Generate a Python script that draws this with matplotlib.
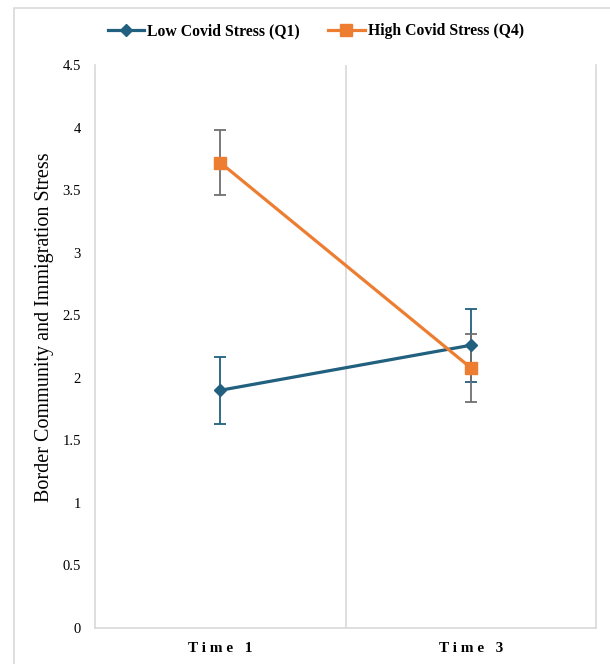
import matplotlib.pyplot as plt
from matplotlib.patches import Rectangle

times = ["Time 1", "Time 3"]
low_mean = [1.90, 2.26]
low_err = [0.27, 0.29]
high_mean = [3.72, 2.08]
high_err = [0.26, 0.27]
yticks = [0, 0.5, 1, 1.5, 2, 2.5, 3, 3.5, 4, 4.5]

blue = "#21607f"
orange = "#ed7d31"
grid = "#d9d9d9"
serif = ["Liberation Serif", "DejaVu Serif"]

fig = plt.figure(figsize=(6.1, 6.64), dpi=100)
ax = fig.add_axes([95 / 610, 1 - 628 / 664, (596 - 95) / 610, (628 - 65) / 664])

fig.patches.append(Rectangle((14 / 610, -0.05), 1.0, 1 - 8 / 664 + 0.05,
                             transform=fig.transFigure, fill=False,
                             edgecolor=grid, lw=1.2))

x = list(range(len(times)))
ax.errorbar(x, low_mean, yerr=low_err, fmt="none", ecolor=blue, elinewidth=1.3,
            capsize=4, capthick=1.3, zorder=2)
ax.errorbar(x, high_mean, yerr=high_err, fmt="none", ecolor="#6f6f6f", elinewidth=1.3,
            capsize=4, capthick=1.3, zorder=3)
ax.plot(x, low_mean, color=blue, lw=2.3, marker="D", markersize=6,
        label="Low Covid Stress (Q1)", zorder=4)
ax.plot(x, high_mean, color=orange, lw=2.3, marker="s", markersize=8,
        label="High Covid Stress (Q4)", zorder=5)

ax.set_xlim(-0.5, 1.5)
ax.set_ylim(0, 4.5)
ax.set_yticks(yticks)
ax.set_yticklabels([f"{t:g}" for t in yticks], fontfamily=serif, fontsize=10.5)
ax.set_xticks(x)
ax.set_xticklabels([" ".join(t) for t in times], fontfamily=serif, fontsize=11,
                   fontweight="bold")
ax.tick_params(axis="both", length=0, pad=10)
ax.tick_params(axis="x", pad=10)
ax.axvline(0.5, color=grid, lw=1.2, zorder=1)
for side in ["left", "right", "bottom"]:
    ax.spines[side].set_color(grid)
    ax.spines[side].set_linewidth(1.2)
ax.spines["top"].set_visible(False)

ax.set_ylabel("Border Community and Immigration Stress", fontfamily=serif,
              fontsize=14.5)
ax.yaxis.set_label_coords(-(95 - 45) / 501, (628 - 327) / 563)
ax.yaxis.label.set_va("center")

fig.legend(loc="center", bbox_to_anchor=(316 / 610, 1 - 31 / 664), ncol=2, frameon=False,
           prop={"family": serif, "weight": "bold", "size": 11.3},
           handlelength=2.3, columnspacing=1.8, handletextpad=0.2)

fig.savefig("out.png", dpi=100)
